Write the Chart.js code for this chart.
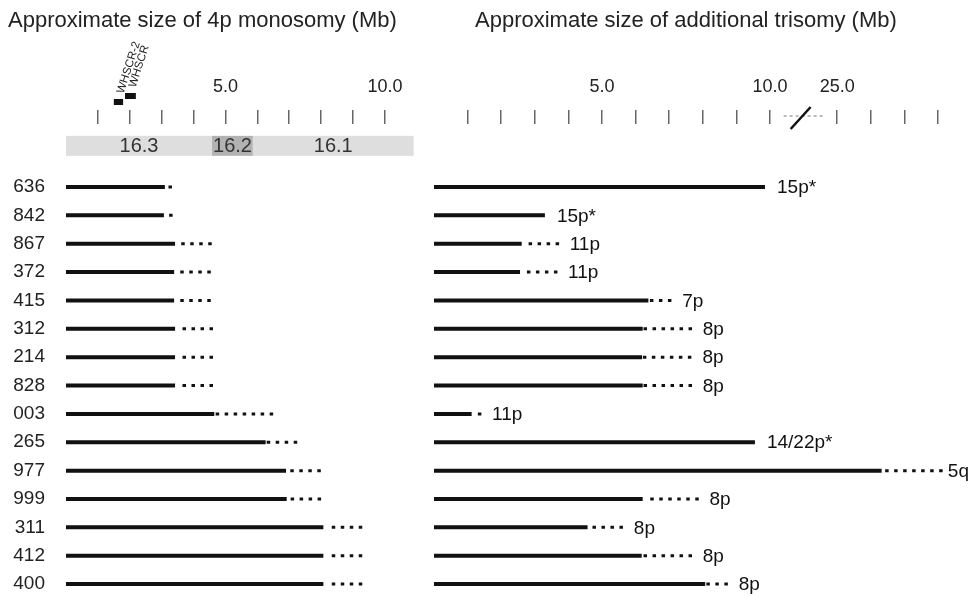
<!DOCTYPE html>
<html><head><meta charset="utf-8">
<script src="https://cdn.jsdelivr.net/npm/chart.js@4.4.1/dist/chart.umd.min.js"></script>
<style>
body{margin:0;background:#fff}
#wrap{position:relative;width:972px;height:596px;overflow:hidden;background:#fff}
canvas{position:absolute;top:0}
.ttl{position:absolute;top:9px;font-family:Arial,"Liberation Sans",sans-serif;font-size:22px;line-height:22px;color:#222;white-space:nowrap}
</style></head><body>
<div id="wrap">
<canvas id="mono" width="420" height="596" style="left:0"></canvas>
<canvas id="tri" width="552" height="596" style="left:420px"></canvas>
<div class="ttl" style="left:8px">Approximate size of 4p monosomy (Mb)</div>
<div class="ttl" style="left:475px">Approximate size of additional trisomy (Mb)</div>
</div>
<script>
const FONT = 'Arial, "Liberation Sans", sans-serif';

// ---- data (Mb) ----
const patients = ['636','842','867','372','415','312','214','828','003','265','977','999','311','412','400'];

// 4p monosomy: solid = confirmed deletion, dotted = uncertain extension
const monoSolid   = [3.10, 3.07, 3.42, 3.39, 3.39, 3.42, 3.42, 3.42, 4.65, 6.26, 6.90, 6.92, 8.07, 8.07, 8.07];
const monoDotFrom = [3.26, 3.28, 3.66, 3.63, 3.63, 3.70, 3.70, 3.70, 4.74, 6.34, 7.08, 7.09, 8.38, 8.38, 8.38];
const monoDotTo   = [3.28, 3.30, 4.53, 4.50, 4.50, 4.57, 4.57, 4.57, 6.46, 7.21, 7.95, 7.97, 9.25, 9.25, 9.25];

// additional trisomy
const triSolid    = [9.85, 3.30, 2.61, 2.56, 6.38, 6.21, 6.19, 6.21, 1.12, 9.55, 26.32, 6.21, 4.57, 6.18, 8.07];
const triDotFrom  = [null, null, 2.86, 2.81, 6.47, 6.28, 6.26, 6.28, 1.35, null, 26.47, 6.48, 4.76, 6.28, 8.15];
const triDotTo    = [null, null, 3.68, 3.63, 7.03, 7.64, 7.63, 7.64, 1.37, null, 28.10, 7.84, 5.59, 7.64, 8.71];
const triPartner  = ['15p*','15p*','11p','11p','7p','8p','8p','8p','11p','14/22p*','5q','8p','8p','8p','8p'];

// axis ticks
const monoTicks = [1,2,3,4,5,6,7,8,9,10];
const monoTickLabels = [5, 10];
const triTicks = [1,2,3,4,5,6,7,8,9,10,25,26,27,28];
const triTickLabels = [5, 10, 25];

// cytogenetic bands of 4p16
const bandNames = ['16.3','16.2','16.1'];
const bandFrom  = [0, 4.58, 5.86];
const bandTo    = [4.58, 5.86, 10.9];

// critical regions
const geneNames = ['WHSCR-2','WHSCR'];
const geneFrom  = [1.50, 1.85];
const geneTo    = [1.79, 2.19];

// ---- axis break on the trisomy axis (10 Mb -> 25 Mb) ----
const BREAK_LOW = 10, BREAK_HIGH = 25, BREAK_SPAN = 2; // break occupies 2 tick steps
const axisPos = v => v > BREAK_LOW ? BREAK_LOW + BREAK_SPAN + (v - BREAK_HIGH) : v;
const realOf  = d => d > BREAK_LOW ? BREAK_HIGH + (d - BREAK_LOW - BREAK_SPAN) : d;

function segments(from, to, map) {
  const pts = [];
  from.forEach((f, i) => {
    const t = to[i];
    if (f == null || t == null) return;
    pts.push({x: map(f), y: i}, {x: map(t), y: i}, {x: null, y: null});
  });
  return pts;
}
const id = v => v;
const zeros = patients.map(() => 0);

function lineSet(data, dotted) {
  return {
    data, showLine: true, spanGaps: false, clip: false,
    borderColor: '#111', backgroundColor: '#111',
    borderWidth: dotted ? 3 : 4,
    borderDash: dotted ? [0.5, 8.5] : [],
    borderCapStyle: dotted ? 'square' : 'butt',
    pointRadius: 0, pointHoverRadius: 0, tension: 0
  };
}

function xAxis(max, ticks, labeled, map, unmap) {
  return {
    type: 'linear', position: 'top', min: 0, max,
    grid: {display: true, drawOnChartArea: false, drawTicks: true, tickLength: 14, color: '#666', lineWidth: 1.5},
    border: {display: false},
    ticks: {
      autoSkip: false, maxRotation: 0, minRotation: 0, padding: 12, color: '#222',
      font: {family: FONT, size: 18},
      callback: v => { const r = Math.round(unmap(v) * 100) / 100; return labeled.includes(r) ? r.toFixed(1) : ''; }
    },
    afterBuildTicks: s => { s.ticks = ticks.map(t => ({value: map(t)})); },
    afterFit: s => { s.height = 124; s.paddingLeft = 0; s.paddingRight = 0; }
  };
}

function yAxis(show) {
  return {
    type: 'linear', reverse: true, min: -2.22, max: 14.42, display: show,
    grid: {display: false, drawTicks: false}, border: {display: false},
    ticks: {autoSkip: false, padding: 21, color: '#222', font: {family: FONT, size: 19},
            callback: v => patients[v] ?? ''},
    afterBuildTicks: s => { s.ticks = patients.map((_, i) => ({value: i})); },
    afterFit: s => { s.width = show ? 66 : 0; s.paddingTop = 0; s.paddingBottom = 0; }
  };
}

const common = {
  responsive: false, devicePixelRatio: 1, animation: false, events: [],
  layout: {padding: 0},
  plugins: {legend: {display: false}, tooltip: {enabled: false}, title: {display: false}}
};

const monoDecor = {
  id: 'monoDecor',
  beforeDatasetsDraw(chart) {
    const {ctx, scales: {x, y}} = chart;
    const yc = y.getPixelForValue(-1.45);
    ctx.save();
    bandNames.forEach((name, i) => {
      const x0 = x.getPixelForValue(bandFrom[i]), x1 = x.getPixelForValue(bandTo[i]);
      ctx.fillStyle = i === 1 ? '#b2b2b2' : '#dedede';
      ctx.fillRect(x0, yc - 10, x1 - x0, 20);
      ctx.fillStyle = '#333';
      ctx.font = '20px ' + FONT;
      ctx.textAlign = 'center'; ctx.textBaseline = 'middle';
      ctx.fillText(name, (x0 + x1) / 2, yc + 1);
    });
    const base = x.bottom;
    geneNames.forEach((g, i) => {
      const x0 = x.getPixelForValue(geneFrom[i]), x1 = x.getPixelForValue(geneTo[i]);
      const top = base - 25 - 6 * i;
      ctx.fillStyle = '#111';
      ctx.fillRect(x0, top, x1 - x0, 6);
      ctx.save();
      ctx.translate((x0 + x1) / 2 + 2, top - 6);
      ctx.rotate(-72 * Math.PI / 180);
      ctx.font = '11.5px ' + FONT; ctx.fillStyle = '#222';
      ctx.textAlign = 'left'; ctx.textBaseline = 'middle';
      ctx.fillText(g, 0, 0);
      ctx.restore();
    });
    ctx.restore();
  }
};

const triDecor = {
  id: 'triDecor',
  afterDatasetsDraw(chart) {
    const {ctx, scales: {x, y}} = chart;
    ctx.save();
    ctx.font = '19px ' + FONT; ctx.fillStyle = '#111';
    ctx.textAlign = 'left'; ctx.textBaseline = 'middle';
    triPartner.forEach((lab, i) => {
      const end = triDotTo[i] != null ? triDotTo[i] : triSolid[i];
      const w = ctx.measureText(lab).width;
      const tx = Math.min(x.getPixelForValue(axisPos(end)) + 12, chart.width - w - 3);
      ctx.fillText(lab, tx, y.getPixelForValue(i) + 1);
    });
    // axis break mark
    const base = x.bottom;
    const xb = (x.getPixelForValue(axisPos(BREAK_LOW)) + x.getPixelForValue(axisPos(BREAK_HIGH))) / 2;
    ctx.strokeStyle = '#777'; ctx.lineWidth = 1; ctx.setLineDash([3, 3]);
    ctx.beginPath(); ctx.moveTo(xb - 20, base - 8); ctx.lineTo(xb + 19, base - 8); ctx.stroke();
    ctx.setLineDash([]);
    ctx.strokeStyle = '#111'; ctx.lineWidth = 2.5;
    ctx.beginPath(); ctx.moveTo(xb - 13, base + 5); ctx.lineTo(xb + 7, base - 17); ctx.stroke();
    ctx.restore();
  }
};

new Chart(document.getElementById('mono'), {
  type: 'scatter',
  data: {datasets: [
    lineSet(segments(zeros, monoSolid, id), false),
    lineSet(segments(monoDotFrom, monoDotTo, id), true)
  ]},
  options: Object.assign({}, common, {
    scales: {x: xAxis(11.1, monoTicks, monoTickLabels, id, id), y: yAxis(true)}
  }),
  plugins: [monoDecor]
});

new Chart(document.getElementById('tri'), {
  type: 'scatter',
  data: {datasets: [
    lineSet(segments(zeros, triSolid, axisPos), false),
    lineSet(segments(triDotFrom, triDotTo, axisPos), true)
  ]},
  options: Object.assign({}, common, {
    layout: {padding: {left: 14}},
    scales: {x: xAxis(16.01, triTicks, triTickLabels, axisPos, realOf), y: yAxis(false)}
  }),
  plugins: [triDecor]
});
</script>
</body></html>
